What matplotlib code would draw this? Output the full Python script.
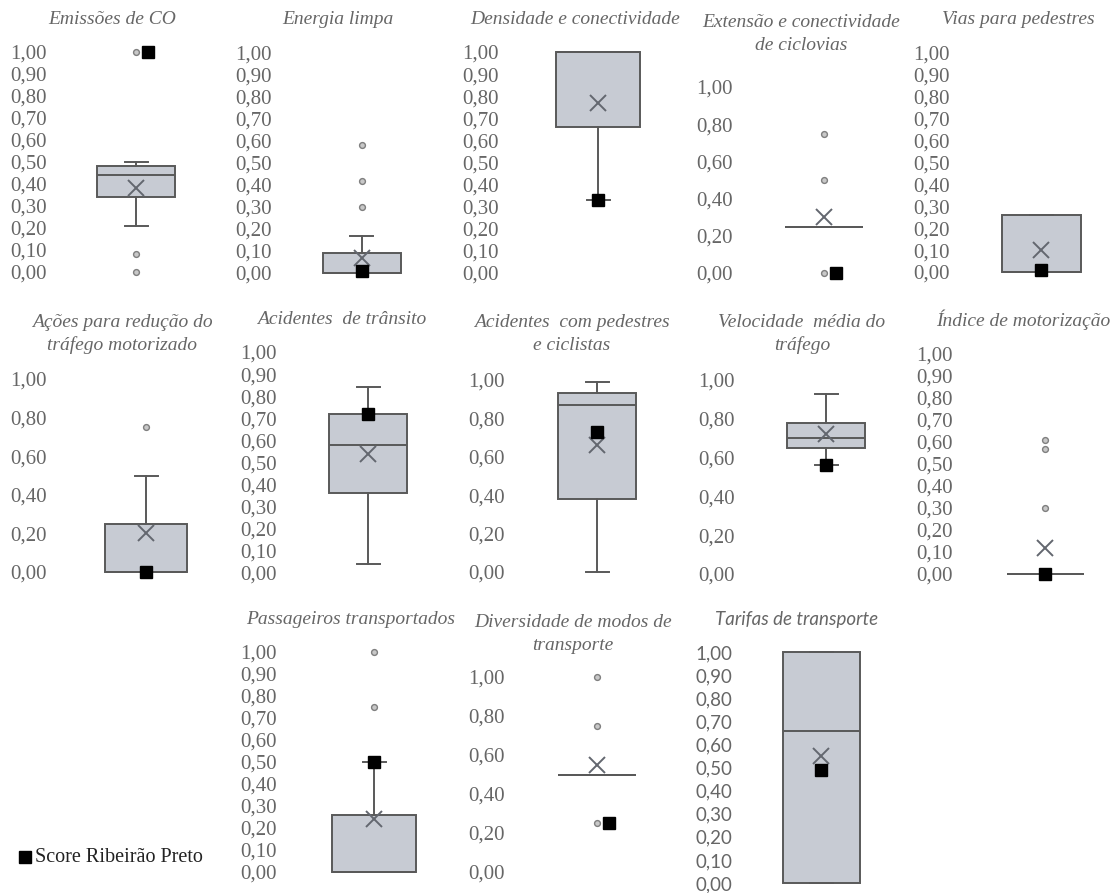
import matplotlib
matplotlib.use("Agg")
import matplotlib.pyplot as plt
from matplotlib.lines import Line2D
from matplotlib.ticker import FuncFormatter, MultipleLocator

# ---------------- data ----------------
titles = ["Emissões de CO", "Energia limpa", "Densidade e conectividade",
          "Extensão e conectividade\nde ciclovias", "Vias para pedestres",
          "Ações para redução do\ntráfego motorizado", "Acidentes  de trânsito",
          "Acidentes  com pedestres\ne ciclistas", "Velocidade  média do\ntráfego",
          "Índice de motorização", "Passageiros transportados",
          "Diversidade de modos de\ntransporte", "Tarifas de transporte"]
q1 = [0.34, 0.00, 0.66, 0.25, 0.00, 0.00, 0.36, 0.38, 0.65, 0.00, 0.00, 0.50, 0.00]
med = [0.44, 0.00, 1.00, 0.25, 0.00, 0.00, 0.58, 0.87, 0.70, 0.00, 0.00, 0.50, 0.66]
q3 = [0.48, 0.09, 1.00, 0.25, 0.26, 0.25, 0.72, 0.93, 0.78, 0.00, 0.26, 0.50, 1.00]
whislo = [0.21, 0.00, 0.33, 0.25, 0.00, 0.00, 0.04, 0.00, 0.56, 0.00, 0.00, 0.50, 0.00]
whishi = [0.50, 0.17, 1.00, 0.25, 0.26, 0.50, 0.84, 0.99, 0.93, 0.00, 0.50, 0.50, 1.00]
means = [0.38, 0.07, 0.77, 0.30, 0.10, 0.20, 0.54, 0.66, 0.72, 0.12, 0.24, 0.55, 0.55]
outliers = [[1.00, 0.08, 0.00], [0.58, 0.42, 0.30], [], [0.75, 0.50, 0.00], [],
            [0.75], [], [], [], [0.61, 0.57, 0.30], [1.00, 0.75],
            [1.00, 0.75, 0.25], []]
score = [1.00, 0.01, 0.33, 0.00, 0.01, 0.00, 0.72, 0.73, 0.56, 0.00, 0.50, 0.25, 0.49]
tick_step = [0.1, 0.1, 0.1, 0.2, 0.1, 0.2, 0.1, 0.2, 0.2, 0.1, 0.1, 0.2, 0.1]
legend_label = "Score Ribeirão Preto"

# ---------------- layout (pixels) ----------------
W, H = 1117, 893
# center x of box, y pixel of 1.00, y pixel of 0.00, right edge of tick labels, box width
layout = [
    (136, 52, 272, 47, 78), (362, 53, 273, 272, 78), (598, 52, 273, 499, 84),
    (824, 87, 273, 733, 78), (1041, 53, 272, 950, 79),
    (146, 379, 572, 47, 82), (368, 352, 573, 277, 78), (597, 380, 572, 505, 78),
    (826, 380, 574, 735, 78), (1045, 354, 574, 953, 77),
    (374, 652, 872, 277, 84), (597, 677, 872, 505, 78), (821, 652, 883, 732, 77),
]
title_pos = [(112, 20), (338, 20), (575, 20), (801, 34), (1018, 20),
             (122, 334), (342, 320), (572, 334), (802, 334), (1023, 320),
             (351, 620), (573, 634), (797, 620)]

serif = "Liberation Serif"
sans = "Lato"
TXT = "#666666"
EDGE = "#595959"
FILL = "#c7cbd3"

fig = plt.figure(figsize=(W / 100, H / 100), dpi=100)

fmt = FuncFormatter(lambda v, p: f"{v:.2f}".replace(".", ","))

for i in range(len(titles)):
    cx, ytop, ybot, lab_r, bw = layout[i]
    half = 60
    ax = fig.add_axes([(cx - half) / W, 1 - ybot / H, 2 * half / W, (ybot - ytop) / H])
    ax.set_xlim(-half, half)
    ax.set_ylim(0, 1)
    font = sans if i == 12 else serif
    stats = [dict(q1=q1[i], med=med[i], q3=q3[i], whislo=whislo[i],
                  whishi=whishi[i], mean=means[i], fliers=outliers[i])]
    art = ax.bxp(stats, positions=[0], widths=bw, patch_artist=True,
                 showmeans=True, showfliers=True,
                 boxprops=dict(facecolor=FILL, edgecolor=EDGE, linewidth=1.4),
                 medianprops=dict(color=EDGE, linewidth=1.4),
                 whiskerprops=dict(color=EDGE, linewidth=1.4),
                 capprops=dict(color=EDGE, linewidth=1.4),
                 capwidths=23,
                 meanprops=dict(marker="x", markeredgecolor="#63676f",
                                markersize=11, markeredgewidth=1.4),
                 flierprops=dict(marker="o", markerfacecolor="#c8c8c8",
                                 markeredgecolor="#7f7f7f", markersize=4.2,
                                 markeredgewidth=1.0))
    for key in art:
        for a in art[key]:
            a.set_clip_on(False)
    shift = 12 if any(abs(o - score[i]) < 0.02 for o in outliers[i]) else 0
    ax.plot([shift], [score[i]], marker="s", color="black", markersize=8.5,
            linestyle="none", clip_on=False, zorder=5)
    ax.yaxis.set_major_locator(MultipleLocator(tick_step[i]))
    ax.yaxis.set_major_formatter(fmt)
    pad_pt = ((cx - half) - lab_r) * 0.72
    ax.tick_params(axis="y", length=0, pad=pad_pt,
                   labelsize=15 if i != 12 else 13.5, labelcolor=TXT)
    for lab in ax.get_yticklabels():
        lab.set_fontfamily(font)
    ax.set_xticks([])
    for s in ax.spines.values():
        s.set_visible(False)
    ax.patch.set_alpha(0)
    tx, ty = title_pos[i]
    fig.text(tx / W, 1 - ty / H, titles[i], ha="center", va="center",
             fontsize=14 if i != 12 else 13.5, fontstyle="italic", family=font,
             color=TXT, linespacing=1.4)

# legend
fig.add_artist(Line2D([25 / W], [1 - 857 / H], marker="s", color="black",
                      markersize=9, linestyle="none", transform=fig.transFigure))
fig.text(35 / W, 1 - 857 / H, legend_label, ha="left", va="center",
         fontsize=14.5, family=serif, color="#222222")

fig.savefig("out.png", dpi=100)
